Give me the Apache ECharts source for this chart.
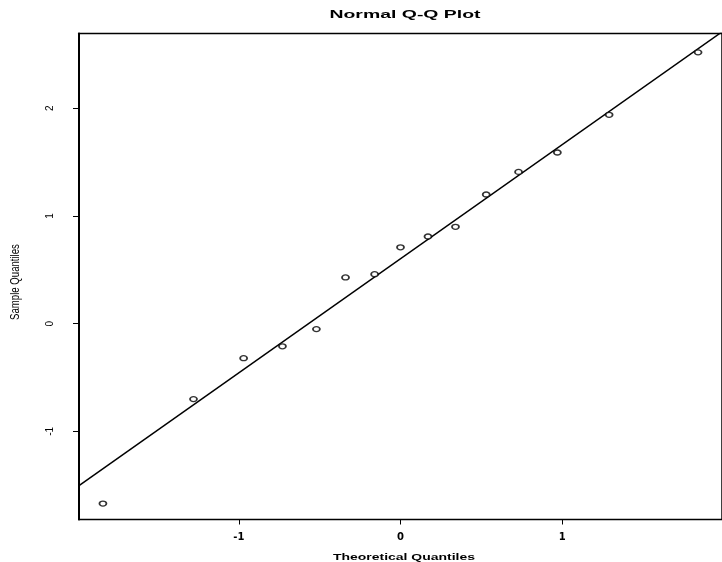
<!DOCTYPE html>
<html>
<head>
<meta charset="utf-8">
<script src="https://cdn.jsdelivr.net/npm/echarts@6/dist/echarts.min.js"></script>
<style>
  html, body { margin: 0; padding: 0; background: #fff; }
  #chart { width: 722px; height: 562px; }
</style>
</head>
<body>
<div id="chart"></div>
<script>
// theoretical quantiles (x) and sample quantiles (y)
var theoretical = [-1.84, -1.28, -0.97, -0.73, -0.52, -0.34, -0.16, 0.0, 0.17, 0.34, 0.53, 0.73, 0.97, 1.29, 1.84];
var sample = [-1.67, -0.70, -0.32, -0.21, -0.05, 0.43, 0.46, 0.71, 0.81, 0.90, 1.20, 1.41, 1.59, 1.94, 2.52];
// reference line ends
var lineX = [-1.988, 1.988];
var lineY = [-1.504, 2.71];
var xTicks = [-1, 0, 1];
var yTicks = [-1, 0, 1, 2];

var chart = echarts.init(document.getElementById("chart"));

var points = [];
for (var i = 0; i < theoretical.length; i++) {
  points.push([theoretical[i], sample[i]]);
}
var linePts = [];
for (var j = 0; j < lineX.length; j++) {
  linePts.push([lineX[j], lineY[j]]);
}

// the scanned plot has wide title text and a squeezed y label, so stretch with scaleX
var option = {
  animation: false,
  backgroundColor: "#fff",
  graphic: [
    {
      type: "text", x: 405, y: 15, scaleX: 1.85,
      style: { text: "Normal Q-Q Plot", font: "bold 10.5px 'Liberation Sans'", fill: "#000", align: "center", verticalAlign: "middle" }
    },
    {
      type: "text", x: 404, y: 557, scaleX: 1.47,
      style: { text: "Theoretical Quantiles", font: "bold 9.5px 'Liberation Sans'", fill: "#000", align: "center", verticalAlign: "middle" }
    },
    {
      type: "text", x: 16, y: 282, rotation: Math.PI / 2, scaleX: 0.8,
      style: { text: "Sample Quantiles", font: "12px 'Liberation Sans'", fill: "#000", align: "center", verticalAlign: "middle" }
    }
  ],
  grid: {
    left: 79, top: 33.5, right: -7, bottom: 42.5,
    show: true, borderColor: "#000", borderWidth: 1.5
  },
  xAxis: {
    type: "value",
    min: -1.988, max: 1.988,
    axisLine: { show: true, onZero: false, lineStyle: { color: "#000", width: 1 } },
    axisTick: { show: true, length: 5, lineStyle: { color: "#000" }, customValues: xTicks },
    axisLabel: { customValues: xTicks, margin: 13, color: "#000", fontFamily: "DejaVu Sans", fontWeight: "bold", fontSize: 10 },
    splitLine: { show: false }
  },
  yAxis: {
    type: "value",
    min: -1.818, max: 2.695,
    axisLine: { show: true, onZero: false, lineStyle: { color: "#000", width: 2 } },
    axisTick: { show: true, length: 6, lineStyle: { color: "#000" }, customValues: yTicks },
    axisLabel: { customValues: yTicks, rotate: 90, margin: 24, color: "#000", fontFamily: "Liberation Sans", fontSize: 10 },
    splitLine: { show: false }
  },
  series: [
    {
      type: "line",
      data: linePts,
      symbol: "none",
      lineStyle: { color: "#000", width: 1.5 },
      z: 2
    },
    {
      type: "scatter",
      data: points,
      symbol: "circle",
      symbolSize: [7, 5],
      itemStyle: { color: "#fff", borderColor: "#000", borderWidth: 1.5 },
      z: 3
    }
  ]
};

chart.setOption(option);
</script>
</body>
</html>
